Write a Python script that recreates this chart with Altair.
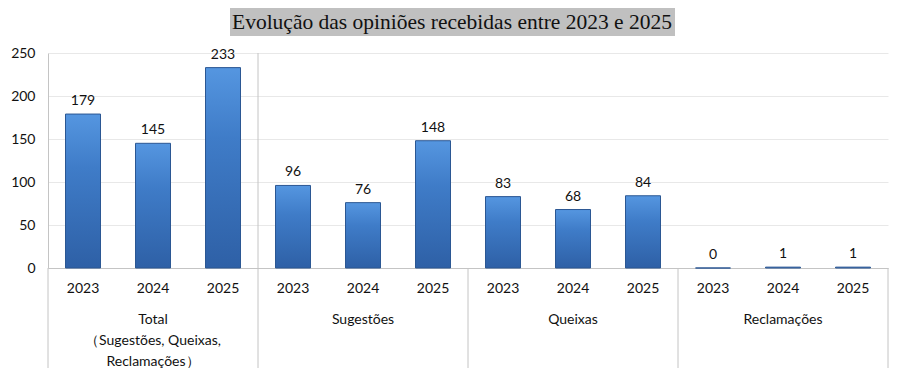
import altair as alt
import pandas as pd

# ---- data ----
group_ids = ["Total", "Sugestões", "Queixas", "Reclamações"]
group_labels = ["Total\n（Sugestões, Queixas,\nReclamações）", "Sugestões", "Queixas", "Reclamações"]
years = ["2023", "2024", "2025"]
total = [179, 145, 233]
sugestoes = [96, 76, 148]
queixas = [83, 68, 84]
reclamacoes = [0, 1, 1]
y_ticks = [0, 50, 100, 150, 200, 250]
title_text = "Evolução das opiniões recebidas entre 2023 e 2025"

series = [total, sugestoes, queixas, reclamacoes]
rows = []
for gid, vals in zip(group_ids, series):
    for yr, v in zip(years, vals):
        rows.append({"key": f"{gid}|{yr}", "group": gid, "year": yr, "value": v})
df = pd.DataFrame(rows)
order = list(df["key"])

grp_df = pd.DataFrame({
    "key": [f"{g}|{years[1]}" for g in group_ids],
    "label": group_labels,
})
first_df = pd.DataFrame({"key": [f"{g}|{years[0]}" for g in group_ids]})
last_df = pd.DataFrame({"key": [f"{group_ids[-1]}|{years[-1]}"]})
sep_df = pd.DataFrame({"key": [f"{group_ids[1]}|{years[0]}"]})
title_df = pd.DataFrame({"t": [title_text]})

W, H = 840, 215
FONT = "Lato"
AX = "#c4c4c4"

xscale = alt.Scale(domain=order, paddingInner=0, paddingOuter=0)
x_enc = alt.X("key:N", scale=xscale, sort=order,
              axis=alt.Axis(labels=False, ticks=False, title=None, domainColor=AX, domainWidth=1))
yscale = alt.Scale(domain=[0, 250], nice=False)

grad = alt.Gradient(
    gradient="linear",
    stops=[alt.GradientStop(color="#5596e0", offset=0),
           alt.GradientStop(color="#3f7cc8", offset=0.35),
           alt.GradientStop(color="#2e60a6", offset=1)],
    x1=0, x2=0, y1=0, y2=1,
)

bars = alt.Chart(df).mark_bar(width=35, fill=grad, stroke="#2b5793", strokeWidth=1).encode(
    x=x_enc,
    y=alt.Y("value:Q", scale=yscale,
            axis=alt.Axis(values=y_ticks, title=None, ticks=False, labelPadding=13,
                          domainColor=AX, gridColor="#e8e8e8", labelFontSize=14,
                          labelFont=FONT, labelColor="#111")),
)

vlabels = alt.Chart(df).mark_text(fontSize=14, font=FONT, color="#111", dy=-9,
                                  baseline="alphabetic").encode(
    x=alt.X("key:N", scale=xscale, sort=order),
    y=alt.Y("value:Q", scale=yscale),
    text="value:Q",
)

year_labels = alt.Chart(df).mark_text(fontSize=14, font=FONT, color="#111",
                                      baseline="middle").encode(
    x=alt.X("key:N", scale=xscale, sort=order),
    y=alt.value(H + 21),
    text="year:N",
)

grp_labels = alt.Chart(grp_df).mark_text(fontSize=14, font=FONT, color="#111",
                                         baseline="top", lineBreak="\n", lineHeight=21).encode(
    x=alt.X("key:N", scale=xscale, sort=order),
    y=alt.value(H + 45),
    text="label:N",
)

div_left = alt.Chart(first_df).mark_rule(color=AX, strokeWidth=1).encode(
    x=alt.X("key:N", scale=xscale, sort=order, bandPosition=0),
    y=alt.value(H), y2=alt.value(H + 102),
)
div_right = alt.Chart(last_df).mark_rule(color=AX, strokeWidth=1).encode(
    x=alt.X("key:N", scale=xscale, sort=order, bandPosition=1),
    y=alt.value(H), y2=alt.value(H + 102),
)
div_sep = alt.Chart(sep_df).mark_rule(color=AX, strokeWidth=1).encode(
    x=alt.X("key:N", scale=xscale, sort=order, bandPosition=0),
    y=alt.value(0), y2=alt.value(H),
)

title_box = alt.Chart(title_df).mark_rect(color="#c0c0c0").encode(
    x=alt.value(182), x2=alt.value(627), y=alt.value(-45), y2=alt.value(-17),
)
title_txt = alt.Chart(title_df).mark_text(font="Liberation Serif", fontSize=21.5, color="#111",
                                          baseline="middle").encode(
    x=alt.value(404), y=alt.value(-30), text="t:N",
)

chart = alt.layer(
    title_box, title_txt, div_sep, bars, vlabels, year_labels, grp_labels, div_left, div_right
).properties(
    width=W, height=H,
    autosize=alt.AutoSizeParams(type="none"),
    padding={"left": 40, "top": 45, "right": 5, "bottom": 100},
).configure_view(stroke=None)

chart.save("out.html", embed_options={"renderer": "svg", "actions": False})
